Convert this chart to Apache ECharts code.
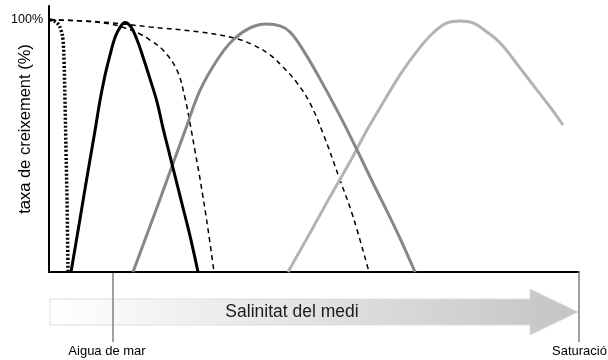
<!DOCTYPE html>
<html>
<head>
<meta charset="utf-8">
<script src="https://cdn.jsdelivr.net/npm/echarts@6/dist/echarts.min.js"></script>
<style>
  html, body { margin: 0; padding: 0; background: #fff; }
  #chart { width: 608px; height: 360px; }
</style>
</head>
<body>
<div id="chart"></div>
<script>
  // corbes llegides del gràfic: [salinitat, creixement %]
  var dotted = [[1,100],[5,99.6],[9,98.4],[12,96],[14,92],[15,84],[16,68],[17,48],[18,29],[19,0]];
  var blackBell = [[22,0],[31,21],[39,40],[46,56],[51,68],[56,78],[61,86],[66,93],[71,97],[76,99],
                   [82,97.2],[88,92.1],[94,85.3],[101,76.6],[108,67.5],[114,57.1],[121,46],[133,27],
                   [141,14.3],[149,0]];
  var dashShort = [[1,100],[31,99.6],[61,98.4],[76,96.8],[91,94.4],[101,92],[114,88],[128,80],
                   [136,69],[141,59],[146,48],[151,37],[159,17],[165,0]];
  var dashLong = [[1,100],[51,99.2],[101,97.2],[151,95.2],[184,92.9],[204,90.1],[221,86.1],[234,81.3],
                  [248,75],[261,67],[274,55],[291,36.5],[304,22],[320,0]];
  var grayBell = [[84,0],[110,27.8],[136,56],[151,72],[168,84],[184,92],[201,96.8],[217,98.4],[231,97.6],
                  [241,95.2],[254,88.1],[271,76.6],[291,61.9],[308,48.4],[324,35.3],[348,15.9],[366,0]];
  var lightBell = [[239,0],[261,15.5],[281,29.8],[301,43.7],[318,56.3],[331,65.1],[351,78.2],[369,88.1],
                   [384,94.8],[398,98.8],[411,99.6],[424,98.8],[438,95.2],[451,90.9],[468,82.5],[484,74.2],
                   [501,65.5],[514,58.3]];
  var seaWater = 64;     // Aigua de mar
  var saturation = 530;  // Saturació
  var yTicks = [100];

  var font = '"Liberation Sans", Arial, sans-serif';
  var chart = echarts.init(document.getElementById('chart'));

  function curve(data, color, width, type, smooth) {
    return {
      type: 'line',
      data: data,
      symbol: 'none',
      smooth: smooth,
      silent: true,
      lineStyle: { color: color, width: width, type: type, cap: 'butt' },
      z: 3
    };
  }

  var option = {
    animation: false,
    grid: { left: 49, right: 29, top: 6, bottom: 88, containLabel: false, outerBoundsMode: 'none' },
    xAxis: {
      type: 'value',
      min: 0,
      max: saturation,
      axisLine: { show: true, lineStyle: { color: '#000', width: 2 } },
      axisTick: { show: false },
      axisLabel: { show: false },
      splitLine: { show: false }
    },
    yAxis: {
      type: 'value',
      min: 0,
      max: 105.5,
      interval: 100,
      axisLine: { show: true, lineStyle: { color: '#000', width: 2 } },
      axisTick: { show: false },
      splitLine: { show: false },
      axisLabel: {
        margin: 6,
        fontFamily: font,
        fontSize: 12.5,
        color: '#000',
        formatter: function (v) { return yTicks.indexOf(v) >= 0 ? v + '%' : ''; }
      }
    },
    series: [
      curve(dashLong, '#000', 1.5, [5, 4], 0.4),
      curve(dashShort, '#000', 1.5, [5, 4], 0.4),
      curve(lightBell, '#b3b3b3', 3, 'solid', 0.4),
      curve(grayBell, '#878787', 3, 'solid', 0.4),
      curve(blackBell, '#000', 3, 'solid', 0.4),
      curve(dotted, '#000', 3.5, [2, 2], 0.4)
    ]
  };
  chart.setOption(option);

  var sea = chart.convertToPixel({ gridIndex: 0 }, [seaWater, 0]);
  var sat = chart.convertToPixel({ gridIndex: 0 }, [saturation, 0]);
  var x0 = chart.convertToPixel({ gridIndex: 0 }, [0, 0])[0];

  chart.setOption({
    graphic: [
      {
        type: 'text',
        x: 25, y: 129,
        rotation: Math.PI / 2,
        style: { text: 'taxa de creixement (%)', fontFamily: font, fontSize: 16.5, fill: '#000', align: 'center', verticalAlign: 'middle' },
        z: 2
      },
      {
        type: 'polygon',
        shape: { points: [[x0 + 1, 299], [530, 299], [530, 289], [578, 312], [530, 335], [530, 325], [x0 + 1, 325]] },
        style: {
          fill: new echarts.graphic.LinearGradient(0, 0, 1, 0, [
            { offset: 0, color: '#ffffff' },
            { offset: 1, color: '#c4c4c4' }
          ]),
          stroke: '#dedede',
          lineWidth: 1
        },
        z: 1
      },
      {
        type: 'text',
        x: 292, y: 312,
        style: { text: 'Salinitat del medi', fontFamily: font, fontSize: 17.5, fill: '#1a1a1a', align: 'center', verticalAlign: 'middle' },
        z: 2
      },
      {
        type: 'line',
        shape: { x1: sea[0], y1: sea[1] + 1, x2: sea[0], y2: 342 },
        style: { stroke: '#808080', lineWidth: 1.5 },
        z: 2
      },
      {
        type: 'text',
        x: sea[0] - 6, y: 351,
        style: { text: 'Aigua de mar', fontFamily: font, fontSize: 13, fill: '#000', align: 'center', verticalAlign: 'middle' },
        z: 2
      },
      {
        type: 'line',
        shape: { x1: sat[0], y1: sat[1] - 1, x2: sat[0], y2: 342 },
        style: { stroke: '#808080', lineWidth: 1.5 },
        z: 2
      },
      {
        type: 'text',
        x: 552, y: 351,
        style: { text: 'Saturació', fontFamily: font, fontSize: 13, fill: '#000', align: 'left', verticalAlign: 'middle' },
        z: 2
      }
    ]
  });
</script>
</body>
</html>
